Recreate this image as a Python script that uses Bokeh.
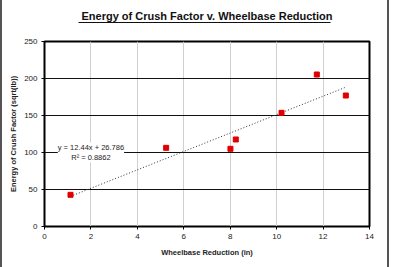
from bokeh.plotting import figure
from bokeh.models import Range1d, Label, Title, FixedTicker, ColumnDataSource, LinearAxis
from bokeh.embed import file_html
from bokeh.resources import INLINE

wheelbase_reduction = [1.12, 5.24, 8.01, 8.24, 10.21, 11.73, 12.98]
crush_energy = [42.8, 106.3, 105.0, 117.6, 153.6, 205.4, 177.0]
slope = 12.44
intercept = 26.786
r_squared = 0.8862
x_ticks = [0, 2, 4, 6, 8, 10, 12, 14]
y_ticks = [0, 50, 100, 150, 200, 250]
title_text = "Energy of Crush Factor v. Wheelbase Reduction"

FONT = "Liberation Sans"

p = figure(width=389, height=267, output_backend="svg", toolbar_location=None,
           x_range=Range1d(0, 14), y_range=Range1d(0, 250), title=None,
           min_border_left=42, min_border_right=22, min_border_top=41, min_border_bottom=41)
p.styles = {"border-left": "2px solid #555555", "border-right": "2px solid #555555"}
p.background_fill_color = "white"
p.border_fill_color = "white"
p.outline_line_color = "black"
p.outline_line_width = 2

p.xaxis.ticker = FixedTicker(ticks=x_ticks)
p.yaxis.ticker = FixedTicker(ticks=y_ticks)
for ax in (p.xaxis[0], p.yaxis[0]):
    ax.axis_line_color = "black"
    ax.axis_line_width = 1
    ax.major_tick_out = 3
    ax.major_tick_in = 0
    ax.minor_tick_out = 0
    ax.minor_tick_in = 0
    ax.major_label_text_font = FONT
    ax.major_label_text_font_size = "8px"
    ax.major_label_text_color = "#222222"
    ax.axis_label_text_font = FONT
    ax.axis_label_text_font_size = "7.5px"
    ax.axis_label_text_font_style = "bold"
    ax.axis_label_text_color = "#222222"
p.xaxis.axis_label = "Wheelbase Reduction (in)"
p.yaxis.axis_label = "Energy of Crush Factor (sqrt(lb))"
p.xaxis.major_label_standoff = 4
p.yaxis.major_label_standoff = 4
p.xaxis.axis_label_standoff = 6
p.yaxis.axis_label_standoff = 3

p.xgrid.ticker = FixedTicker(ticks=x_ticks)
p.ygrid.ticker = FixedTicker(ticks=y_ticks)
p.xgrid.grid_line_color = "#d0d0d0"
p.xgrid.grid_line_width = 1
p.ygrid.grid_line_color = "#111111"
p.ygrid.grid_line_width = 1

# trendline
tx = [min(wheelbase_reduction), max(wheelbase_reduction)]
ty = [slope * v + intercept for v in tx]
p.line(tx, ty, line_color="#333333", line_width=1, line_dash="1 2")

src = ColumnDataSource(dict(x=wheelbase_reduction, y=crush_energy))
p.scatter("x", "y", source=src, marker="square", size=5, fill_color="#e00000", line_color="#e00000")

lbl = Label(x=2.0, y=100, text=f"y = {slope}x + {intercept}\nR\u00b2 = {r_squared}",
            text_align="center", text_baseline="middle", text_font=FONT,
            text_font_size="7.5px", text_color="#222222",
            background_fill_color="white", background_fill_alpha=1.0)
p.add_layout(lbl)

# spacer panel between frame and the underlined title
spacer = Title(text=" ", align="center", text_font_size="1px", standoff=16)
p.add_layout(spacer, "above")
# title as the label of an above-axis whose line is the underline
title_axis = LinearAxis(ticker=FixedTicker(ticks=[]), bounds=(1.46, 12.32),
                        axis_label=title_text, axis_label_text_font=FONT,
                        axis_label_text_font_size="11px", axis_label_text_font_style="bold",
                        axis_label_text_color="#111111", axis_label_standoff=1,
                        axis_line_color="#111111", axis_line_width=1,
                        major_tick_out=0, major_tick_in=0, minor_tick_out=0, minor_tick_in=0,
                        major_label_text_font_size="1px")
p.add_layout(title_axis, "above")

open("out.html", "w").write(file_html(p, INLINE))
